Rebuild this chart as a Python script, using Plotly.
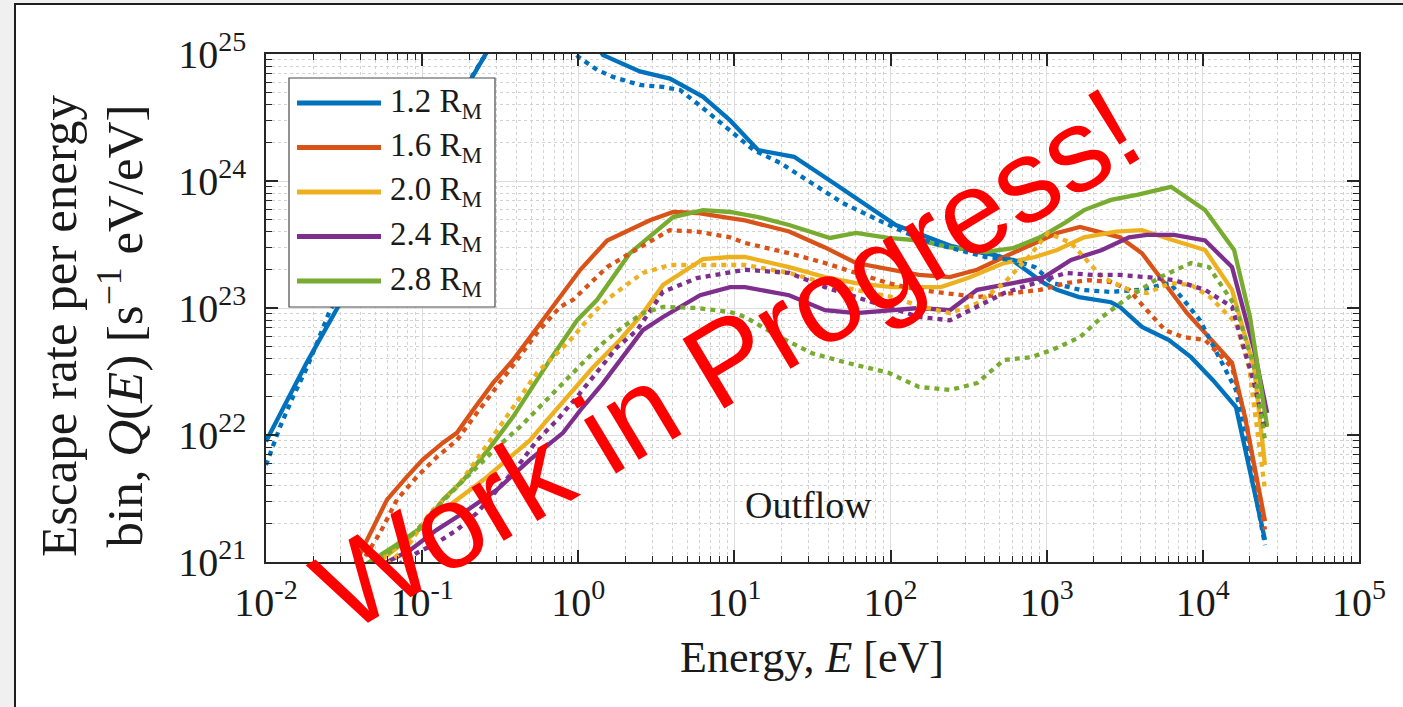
import plotly.graph_objects as go

# ---------------------------------------------------------------------------
# Escape rate per energy bin, Q(E), for five radial distances.
# Solid = model run A, dotted = model run B (same radius, same colour).
# Energies in eV, rates in s^-1 eV/eV.
# ---------------------------------------------------------------------------

RADII = ["1.2", "1.6", "2.0", "2.4", "2.8"]
COLORS = ["#0072BD", "#D95319", "#EDB120", "#7E2F8E", "#77AC30"]

# 1.2 R_M
E_12_SOLID = [0.0100, 0.0182, 0.0289, 0.253, 0.40, 0.63, 1.0, 1.44, 2.48, 3.86,
              6.30, 9.38, 14.2, 24.1, 43.4, 73.8, 108, 174, 240, 358, 467, 600,
              782, 962, 1164, 1611, 2582, 2944, 4074, 6067, 8395, 11610, 16290, 25000]
Q_12_SOLID = [8.9e21, 3.7e22, 1.02e23, 9.8e24, 2.2e25, 2.8e25, 1.8e25, 9.8e24,
              7.3e24, 6.4e24, 4.6e24, 3.0e24, 1.75e24, 1.55e24, 9.6e23, 6.2e23,
              4.5e23, 3.6e23, 3.1e23, 2.76e23, 2.61e23, 2.39e23, 1.89e23, 1.57e23,
              1.39e23, 1.22e23, 1.11e23, 1.02e23, 7.1e22, 5.6e22, 4.1e22, 2.7e22,
              1.66e22, 1.49e21]
E_12_DOT = [0.0100, 0.0123, 0.0149, 0.0183, 0.0212, 0.0257, 0.242, 0.355, 0.562,
            0.794, 1.0, 1.32, 1.67, 2.48, 3.49, 4.48, 5.75, 7.29, 9.38, 13.3, 19.6,
            31.4, 49.5, 84.3, 126, 184, 274, 408, 608, 841, 1096, 1633, 2541, 3954,
            6166, 9594, 16290, 25000]
Q_12_DOT = [5.8e21, 1.16e22, 2.0e22, 3.4e22, 5.3e22, 9.6e22, 9.0e24, 1.6e25,
            2.0e25, 1.4e25, 9.5e24, 7.5e24, 6.6e24, 5.7e24, 5.5e24, 5.2e24, 4.1e24,
            3.2e24, 2.5e24, 1.75e24, 1.39e24, 9.6e23, 6.7e23, 4.9e23, 3.9e23,
            3.25e23, 2.86e23, 2.52e23, 2.39e23, 2.1e23, 1.57e23, 1.39e23, 1.34e23,
            1.39e23, 1.57e23, 8.0e22, 2.26e22, 1.36e21]

# 1.6 R_M
E_16_SOLID = [0.037, 0.0463, 0.0596, 0.080, 0.101, 0.136, 0.167, 0.212, 0.284,
              0.382, 0.513, 0.689, 1.03, 1.53, 2.14, 2.88, 4.05, 5.75, 9.38, 11.7,
              22.4, 38.0, 60.1, 84.3, 152, 240, 358, 533, 841, 1164, 1633, 2259,
              2944, 4074, 5728, 7925, 10940, 15380, 18620, 25000]
Q_16_SOLID = [9.5e20, 1.69e21, 3.1e21, 4.7e21, 6.4e21, 8.7e21, 1.04e22, 1.57e22,
              2.56e22, 3.9e22, 6.4e22, 1.02e23, 2.0e23, 3.4e23, 4.1e23, 4.9e23,
              5.7e23, 5.6e23, 5.1e23, 4.9e23, 4.0e23, 3.0e23, 2.26e23, 2.1e23,
              1.82e23, 1.75e23, 2.0e23, 2.52e23, 3.25e23, 3.9e23, 4.35e23, 3.9e23,
              3.6e23, 2.7e23, 1.57e23, 9.1e22, 5.9e22, 3.7e22, 1.39e22, 2.1e21]
E_16_DOT = [0.040, 0.0537, 0.069, 0.0927, 0.124, 0.167, 0.224, 0.301, 0.406, 0.545,
            0.764, 0.925, 1.53, 2.48, 3.86, 5.75, 9.38, 11.7, 22.4, 38.0, 60.1,
            96.4, 152, 240, 358, 608, 906, 1330, 1866, 2582, 3365, 4385, 5728,
            7464, 10330, 15380, 18620, 25000]
Q_16_DOT = [9.5e20, 1.69e21, 3.1e21, 4.7e21, 6.7e21, 9.1e21, 1.49e22, 2.39e22,
            3.9e22, 6.4e22, 1.02e23, 1.16e23, 2.1e23, 3.0e23, 4.1e23, 4.0e23,
            3.6e23, 3.25e23, 2.7e23, 2.26e23, 1.89e23, 1.57e23, 1.39e23, 1.31e23,
            1.22e23, 1.31e23, 1.39e23, 1.57e23, 1.66e23, 1.6e23, 1.39e23, 9.6e22,
            6.7e22, 5.9e22, 5.6e22, 3.4e22, 1.39e22, 1.8e21]

# 2.0 R_M
E_20_SOLID = [0.050, 0.0753, 0.112, 0.167, 0.245, 0.366, 0.491, 0.631, 0.885,
              1.24, 1.85, 2.59, 3.49, 6.30, 9.38, 11.7, 22.4, 38.0, 60.1, 102,
              210, 313, 533, 841, 1164, 1734, 2780, 4074, 6531, 10330, 15380,
              21280, 25000]
Q_20_SOLID = [9.5e20, 1.41e21, 2.14e21, 3.1e21, 4.4e21, 6.7e21, 9.1e21, 1.31e22,
              2.14e22, 3.4e22, 5.6e22, 9.1e22, 1.52e23, 2.43e23, 2.52e23, 2.52e23,
              2.1e23, 1.75e23, 1.57e23, 1.46e23, 1.46e23, 1.72e23, 2.26e23,
              2.52e23, 2.86e23, 3.6e23, 4.0e23, 4.1e23, 3.4e23, 2.86e23, 1.39e23,
              3.4e22, 5.8e21]
E_20_DOT = [0.060, 0.0836, 0.112, 0.167, 0.224, 0.272, 0.349, 0.443, 0.545, 0.731,
            0.925, 1.24, 1.60, 2.59, 3.86, 5.75, 9.38, 11.7, 22.4, 38.0, 60.1, 102,
            161, 240, 358, 533, 782, 1019, 1432, 2259, 3365, 4385, 6166, 8395,
            11120, 16290, 19770, 25000]
Q_20_DOT = [9.5e20, 1.41e21, 2.43e21, 3.9e21, 6.4e21, 9.1e21, 1.39e22, 2.14e22,
            3.1e22, 4.4e22, 5.9e22, 9.1e22, 1.22e23, 1.89e23, 2.18e23, 2.18e23,
            2.18e23, 2.18e23, 1.89e23, 1.57e23, 1.39e23, 1.22e23, 1.02e23, 9.1e22,
            1.09e23, 1.57e23, 2.6e23, 3.9e23, 3.25e23, 1.75e23, 1.39e23, 1.31e23,
            1.57e23, 1.52e23, 1.22e23, 7.6e22, 3.4e22, 3.7e21]

# 2.4 R_M
E_24_SOLID = [0.055, 0.0836, 0.124, 0.183, 0.301, 0.491, 0.798, 1.07, 1.44, 1.93,
              2.59, 3.49, 6.03, 9.38, 11.7, 22.4, 38.0, 60.1, 96.4, 152, 240, 358,
              608, 962, 1432, 2259, 3365, 4385, 6531, 10330, 15380, 21280, 25800]
Q_24_SOLID = [9.5e20, 1.24e21, 1.79e21, 2.43e21, 3.7e21, 6.4e21, 1.04e22, 1.66e22,
              2.56e22, 4.1e22, 6.7e22, 8.5e22, 1.26e23, 1.46e23, 1.46e23, 1.26e23,
              9.6e22, 9.1e22, 9.6e22, 1.0e23, 9.6e22, 1.39e23, 1.57e23, 1.75e23,
              2.39e23, 2.86e23, 3.6e23, 3.76e23, 3.76e23, 3.4e23, 2.1e23, 4.7e22,
              1.49e22]
E_24_DOT = [0.070, 0.0927, 0.124, 0.167, 0.224, 0.301, 0.406, 0.545, 0.731, 0.982,
            1.32, 1.77, 2.38, 3.49, 5.75, 9.38, 11.7, 22.4, 38.0, 60.1, 96.4, 152,
            240, 358, 533, 841, 1330, 1977, 2944, 4385, 6531, 10330, 15380, 21280,
            25000]
Q_24_DOT = [9.5e20, 1.18e21, 1.41e21, 1.79e21, 2.43e21, 3.7e21, 5.6e21, 9.1e21,
            1.31e22, 2.0e22, 3.1e22, 4.9e22, 6.7e22, 1.34e23, 1.72e23, 1.89e23,
            2.0e23, 1.89e23, 1.46e23, 1.22e23, 1.02e23, 8.5e22, 8.0e22, 1.02e23,
            1.31e23, 1.57e23, 1.89e23, 1.82e23, 1.82e23, 1.75e23, 1.66e23, 1.39e23,
            1.02e23, 2.56e22, 1.09e22]

# 2.8 R_M
E_28_SOLID = [0.043, 0.065, 0.101, 0.136, 0.183, 0.272, 0.382, 0.491, 0.659, 0.982,
              1.32, 2.14, 4.05, 6.30, 9.38, 14.2, 22.4, 40.9, 60.1, 96.4, 152, 240,
              408, 608, 906, 1330, 1734, 2582, 3846, 6252, 10330, 15850, 20040,
              25800]
Q_28_SOLID = [9.5e20, 1.31e21, 1.89e21, 3.1e21, 4.4e21, 8.0e21, 1.39e22, 2.26e22,
              3.9e22, 8.0e22, 1.16e23, 2.7e23, 5.2e23, 5.9e23, 5.7e23, 5.2e23,
              4.5e23, 3.56e23, 3.9e23, 3.56e23, 3.4e23, 3.0e23, 2.76e23, 2.96e23,
              3.6e23, 4.75e23, 5.9e23, 7.1e23, 7.8e23, 9.0e23, 5.9e23, 2.86e23,
              8.5e22, 1.16e22]
E_28_DOT = [0.047, 0.069, 0.0927, 0.124, 0.167, 0.224, 0.301, 0.424, 0.569, 0.798,
            1.07, 1.44, 1.93, 2.59, 3.49, 5.75, 9.38, 11.7, 19.6, 31.4, 52.6, 96.4,
            152, 240, 358, 533, 794, 1096, 1633, 2259, 3365, 5321, 8395, 10940,
            16290, 21280, 25000]
Q_28_DOT = [9.5e20, 1.31e21, 1.79e21, 2.7e21, 3.9e21, 5.6e21, 8.0e21, 1.16e22,
            1.66e22, 2.56e22, 3.7e22, 5.3e22, 7.1e22, 9.1e22, 1.02e23, 1.0e23,
            9.3e22, 8.5e22, 5.9e22, 4.4e22, 3.7e22, 3.1e22, 2.39e22, 2.26e22,
            2.56e22, 3.9e22, 4.1e22, 4.7e22, 5.9e22, 8.5e22, 1.22e23, 1.75e23,
            2.26e23, 2.1e23, 1.02e23, 3.4e22, 9.1e21]

SOLID = [(E_12_SOLID, Q_12_SOLID), (E_16_SOLID, Q_16_SOLID), (E_20_SOLID, Q_20_SOLID),
         (E_24_SOLID, Q_24_SOLID), (E_28_SOLID, Q_28_SOLID)]
DOTTED = [(E_12_DOT, Q_12_DOT), (E_16_DOT, Q_16_DOT), (E_20_DOT, Q_20_DOT),
          (E_24_DOT, Q_24_DOT), (E_28_DOT, Q_28_DOT)]

X_TICKS = [1e-2, 1e-1, 1e0, 1e1, 1e2, 1e3, 1e4, 1e5]
X_TICK_TEXT = ["10<sup>-2</sup>", "10<sup>-1</sup>", "10<sup>0</sup>", "10<sup>1</sup>",
               "10<sup>2</sup>", "10<sup>3</sup>", "10<sup>4</sup>", "10<sup>5</sup>"]
Y_TICKS = [1e21, 1e22, 1e23, 1e24, 1e25]
Y_TICK_TEXT = ["10<sup>21</sup>", "10<sup>22</sup>", "10<sup>23</sup>",
               "10<sup>24</sup>", "10<sup>25</sup>"]

# ---------------------------------------------------------------------------
# Page geometry (pixels)
# ---------------------------------------------------------------------------
WIDTH, HEIGHT = 1403, 707
LEFT, RIGHT, TOP, BOTTOM = 266, 1359, 54, 562
PW, PH = RIGHT - LEFT, BOTTOM - TOP

SERIF = "Liberation Serif, Times New Roman, serif"
INK = "#262626"


def fx(px):
    """Horizontal pixel -> paper fraction."""
    return (px - LEFT) / PW


def fy(py):
    """Vertical pixel (from top) -> paper fraction."""
    return (BOTTOM - py) / PH


def minor_ticks(lo, hi):
    return [m * 10.0 ** d for d in range(lo, hi) for m in range(2, 10)]


fig = go.Figure()

for (e, q), c in zip(SOLID, COLORS):
    fig.add_trace(go.Scatter(x=e, y=q, mode="lines", showlegend=False,
                             hoverinfo="skip",
                             line=dict(color=c, width=4.3)))
for (e, q), c in zip(DOTTED, COLORS):
    fig.add_trace(go.Scatter(x=e, y=q, mode="lines", showlegend=False,
                             hoverinfo="skip",
                             line=dict(color=c, width=4.3, dash="5px,5px")))

axis_common = dict(
    type="log",
    showline=True, linecolor=INK, linewidth=1.5, mirror="ticks",
    ticks="inside", ticklen=12, tickwidth=1.5, tickcolor=INK,
    showgrid=True, gridcolor="#dddddd", gridwidth=1,
    tickfont=dict(family=SERIF, size=40, color="#1a1a1a"),
    tickmode="array",
    automargin=False,
)

fig.update_xaxes(
    range=[-2, 5], tickvals=X_TICKS, ticktext=X_TICK_TEXT,
    ticklabelstandoff=4,
    minor=dict(tickmode="array", tickvals=minor_ticks(-2, 5), ticks="inside",
               ticklen=6, tickwidth=1, tickcolor=INK, showgrid=True,
               gridcolor="#d2d2d2", griddash="dot", gridwidth=1),
    **axis_common,
)
fig.update_yaxes(
    range=[21, 25], tickvals=Y_TICKS, ticktext=Y_TICK_TEXT,
    ticklabelstandoff=10,
    minor=dict(tickmode="array", tickvals=minor_ticks(21, 25), ticks="inside",
               ticklen=6, tickwidth=1, tickcolor=INK, showgrid=True,
               gridcolor="#d2d2d2", griddash="dot", gridwidth=1),
    **axis_common,
)

shapes = [
    # white figure panel with dark frame on the grey page
    dict(type="rect", xref="paper", yref="paper", layer="below",
         x0=fx(15), x1=fx(WIDTH + 20), y0=fy(HEIGHT + 20), y1=fy(4),
         fillcolor="white", line=dict(color="#1e1e1e", width=2)),
    # legend box
    dict(type="rect", xref="paper", yref="paper", layer="above",
         x0=fx(289), x1=fx(495), y0=fy(307), y1=fy(78),
         fillcolor="white", line=dict(color="#4a4a4a", width=1.2)),
]

annotations = []
for i, (r, c) in enumerate(zip(RADII, COLORS)):
    yc = 103 + 44.5 * i
    shapes.append(dict(type="line", xref="paper", yref="paper", layer="above",
                       x0=fx(297), x1=fx(381), y0=fy(yc), y1=fy(yc),
                       line=dict(color=c, width=5)))
    annotations.append(dict(xref="paper", yref="paper", x=fx(388), y=fy(yc),
                            xanchor="left", yanchor="middle", showarrow=False,
                            text=f"{r} R<sub>M</sub>",
                            font=dict(family=SERIF, size=33, color="#1a1a1a")))

annotations += [
    dict(xref="paper", yref="paper", x=fx(808), y=fy(505), showarrow=False,
         xanchor="center", yanchor="middle", text="Outflow",
         font=dict(family=SERIF, size=38, color="#1a1a1a")),
    dict(xref="paper", yref="paper", x=fx(812), y=fy(657), showarrow=False,
         xanchor="center", yanchor="middle", text="Energy, <i>E</i> [eV]",
         font=dict(family=SERIF, size=44, color="#1a1a1a")),
    dict(xref="paper", yref="paper", x=fx(92), y=fy(326), showarrow=False,
         xanchor="center", yanchor="middle", textangle=-90,
         text="Escape rate per energy<br>bin, <i>Q</i>(<i>E</i>) [s<sup>\u22121</sup> eV/eV]",
         font=dict(family=SERIF, size=51, color="#1a1a1a")),
    dict(xref="paper", yref="paper", x=fx(727), y=fy(359), showarrow=False,
         xanchor="center", yanchor="middle", textangle=-31,
         text="Work in Progress!",
         font=dict(family="Liberation Sans, Arial, sans-serif", size=118,
                   color="#ff0000")),
]

fig.update_layout(
    width=WIDTH, height=HEIGHT, autosize=False,
    margin=dict(l=LEFT, r=WIDTH - RIGHT, t=TOP, b=HEIGHT - BOTTOM, pad=0),
    paper_bgcolor="#f0f0f0", plot_bgcolor="white",
    shapes=shapes, annotations=annotations,
    showlegend=False,
)

fig.write_html("out.html")
